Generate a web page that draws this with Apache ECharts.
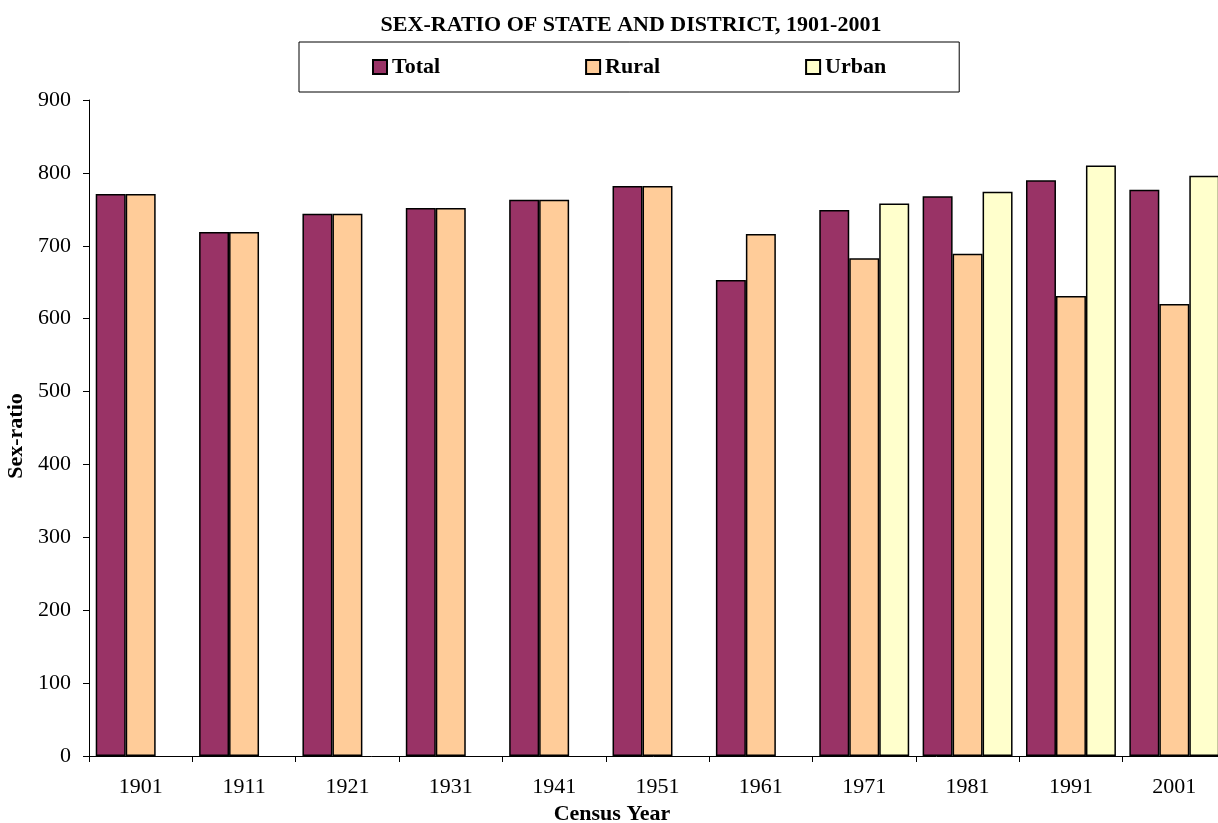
<!DOCTYPE html>
<html><head><meta charset="utf-8">
<script src="https://cdn.jsdelivr.net/npm/echarts@6/dist/echarts.min.js"></script>
<style>html,body{margin:0;padding:0;background:#fff;overflow:hidden}#c{width:1218px;height:823px}</style>
</head><body><div id="c"></div>
<script>
const years = ['1901','1911','1921','1931','1941','1951','1961','1971','1981','1991','2001'];
const totalVals = [771, 719, 744, 752, 763, 782, 653, 749, 768, 790, 777];
const ruralVals = [771, 719, 744, 752, 763, 782, 716, 683, 689, 631, 620];
const urbanVals = [null, null, null, null, null, null, null, 758, 774, 810, 796];
const yTicks = [0, 100, 200, 300, 400, 500, 600, 700, 800, 900];

const serif = 'Liberation Serif';
const chart = echarts.init(document.getElementById('c'));
const barStyle = c => ({ color: c, borderColor: '#000', borderWidth: 1.5 });
chart.setOption({
  animation: false,
  title: {
    text: 'SEX-RATIO OF STATE AND DISTRICT, 1901-2001',
    left: 626, textAlign: 'center', top: 9,
    textStyle: { fontFamily: serif, fontSize: 22, fontWeight: 'bold', color: '#000' }
  },
  legend: {
    left: 299, top: 42,
    padding: [14, 73, 14, 73],
    itemGap: 145, itemWidth: 14, itemHeight: 14, icon: 'rect',
    borderColor: '#000', borderWidth: 1,
    textStyle: { fontFamily: serif, fontSize: 22, fontWeight: 'bold', color: '#000' },
    data: ['Total', 'Rural', 'Urban']
  },
  grid: { left: 89, width: 1137, top: 100, bottom: 67, containLabel: false, outerBoundsMode: 'none' },
  xAxis: {
    type: 'category', data: years,
    axisLine: { lineStyle: { color: '#000', width: 1 } },
    axisTick: { show: true, length: 6, interval: 0, lineStyle: { color: '#000' } },
    axisLabel: { fontFamily: serif, fontSize: 22, color: '#000', margin: 20, interval: 0 },
    name: 'Census Year', nameLocation: 'middle', nameGap: 46,
    nameTextStyle: { fontFamily: serif, fontSize: 22, fontWeight: 'bold', color: '#000', padding: [0, 91, 0, 0] }
  },
  yAxis: {
    type: 'value', min: 0, max: 900, interval: 100,
    splitLine: { show: false },
    axisLine: { show: true, lineStyle: { color: '#000', width: 1 } },
    axisTick: { show: true, length: 6, lineStyle: { color: '#000' } },
    axisLabel: { fontFamily: serif, fontSize: 22, color: '#000', margin: 18,
      formatter: v => yTicks.includes(v) ? String(v) : '' },
    name: 'Sex-ratio', nameLocation: 'middle', nameGap: 56, nameRotate: 90,
    nameTextStyle: { fontFamily: serif, fontSize: 22, fontWeight: 'bold', color: '#000', padding: [0, 16, 0, 0] }
  },
  series: [
    { name: 'Total', type: 'bar', data: totalVals, barGap: '0%', barCategoryGap: '13%', itemStyle: barStyle('#993366') },
    { name: 'Rural', type: 'bar', data: ruralVals, barGap: '0%', barCategoryGap: '13%', itemStyle: barStyle('#FFCC99') },
    { name: 'Urban', type: 'bar', data: urbanVals, barGap: '0%', barCategoryGap: '13%', itemStyle: barStyle('#FFFFCC') }
  ]
});
</script></body></html>
